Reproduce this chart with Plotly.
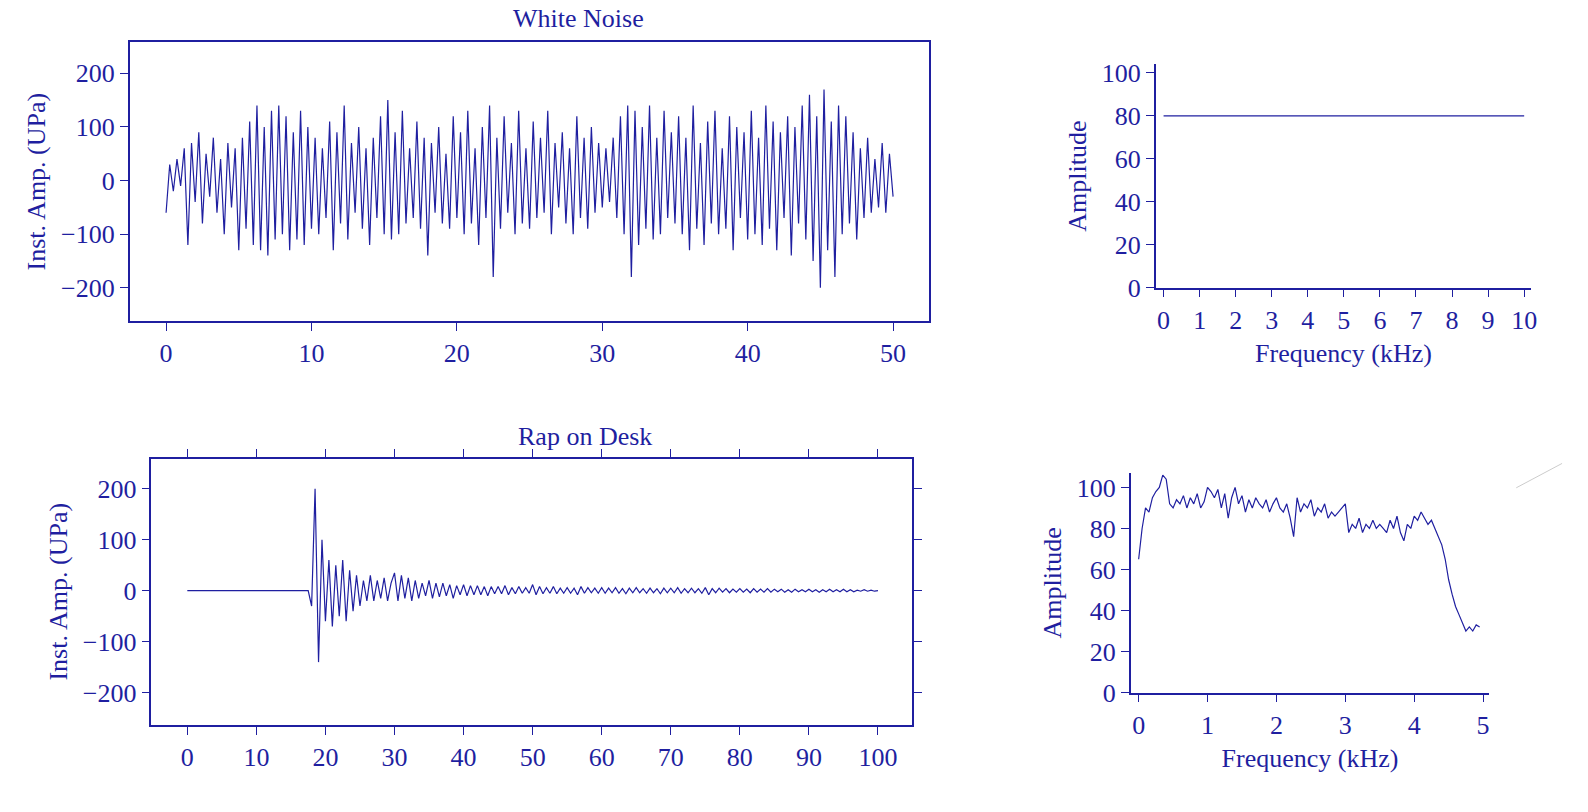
import plotly.graph_objects as go

noise_step = 0.25
noise_vals = [-60,30,-20,40,-10,60,-120,70,-40,90,-80,50,-30,80,-60,40,-100,70,-50,60,-130,
80,-90,110,-120,140,-130,100,-140,130,-110,140,-100,120,-130,90,-110,130,-120,100,-90,
80,-100,60,-70,110,-130,90,-80,140,-110,70,-60,100,-90,60,-120,80,-70,120,-100,
150,-110,90,-100,130,-80,60,-70,110,-90,80,-140,70,-60,100,-80,50,-90,120,-70,
90,-100,130,-80,60,-120,100,-70,140,-180,80,-90,120,-60,70,-100,130,-80,60,-90,
110,-70,80,-60,130,-100,70,-50,90,-80,60,-100,120,-70,80,-90,100,-60,70,-50,
60,-40,80,-70,120,-100,140,-180,130,-120,100,-90,140,-110,80,-100,130,-70,90,-80,
120,-100,80,-130,140,-90,70,-120,110,-80,130,-100,60,-90,120,-130,100,-70,90,-110,
130,-100,80,-120,140,-90,110,-130,90,-70,120,-140,100,-80,140,-110,160,-150,120,-200,
170,-130,110,-180,140,-100,120,-80,90,-110,60,-70,80,-60,40,-50,70,-60,50,-30]
noise_t = [i * noise_step for i in range(len(noise_vals))]

rap_start = 17.5
rap_step = 0.5
rap_vals = [0,-30,200,-140,100,
-60,60,-70,50,-50,60,-60,40,-40,30,
-30,20,-20,30,-20,20,-15,25,-20,15,
35,-20,30,-15,25,-20,20,-15,15,-10,
20,-15,15,-12,15,-10,12,-15,10,-8,
12,-10,10,-8,10,-8,8,-10,8,-6,
8,-6,10,-8,6,-6,8,-5,6,-5,
12,-8,8,-6,6,-5,8,-6,5,-5,
6,-5,5,-8,8,-5,6,-4,5,-5,
6,-5,5,-4,6,-5,4,-6,5,-4,6,-4,4,-5,5,-4,4,-6,5,-4,
5,-4,6,-5,4,-4,5,-4,4,-5,6,-8,4,-4,5,-3,4,-4,3,-3,
4,-3,3,-4,4,-3,3,-3,4,-3,3,-2,3,-3,2,-3,3,-2,2,-2,
3,-2,2,-3,2,-2,3,-2,2,-2,3,-2,2,-2,1,-1,2,-1,1,-1,0]
rap_t = [0] + [rap_start + i * rap_step for i in range(len(rap_vals))]
rap_v = [0] + rap_vals

wn_freq = [0, 10]
wn_amp = [80, 80]

spec_step = 0.05
spec_vals = [65,80,90,88,95,98,100,106,104,92,
90,94,92,96,90,95,92,97,90,93,
100,98,95,99,90,97,85,95,100,92,
96,88,94,90,95,92,90,94,88,92,
95,90,88,92,85,76,95,88,92,90,
94,86,90,88,92,85,88,86,88,90,
92,78,82,80,85,78,82,80,84,80,
82,80,78,84,80,86,78,74,82,80,
86,84,88,85,82,84,80,76,72,65,
55,48,42,38,34,30,32,30,33,32]
spec_f = [i * spec_step for i in range(len(spec_vals))]

C = "#1f1fa0"
FONT = "Liberation Serif"
ln = dict(color=C, width=1.2)

fig = go.Figure()
fig.add_trace(go.Scatter(x=noise_t, y=noise_vals, mode="lines", line=ln, xaxis="x", yaxis="y"))
fig.add_trace(go.Scatter(x=wn_freq, y=wn_amp, mode="lines", line=ln, xaxis="x2", yaxis="y2"))
fig.add_trace(go.Scatter(x=rap_t, y=rap_v, mode="lines", line=ln, xaxis="x3", yaxis="y3"))
fig.add_trace(go.Scatter(x=spec_f, y=spec_vals, mode="lines", line=ln, xaxis="x4", yaxis="y4"))

tf = dict(family=FONT, size=26, color=C)
def ax(**kw):
    d = dict(showgrid=False, zeroline=False, showline=True, linecolor=C, linewidth=1.5,
             ticks="outside", tickcolor=C, ticklen=8, tickwidth=1.2, tickfont=tf)
    d.update(kw); return d

fig.update_layout(
    width=1588, height=812, margin=dict(l=0, r=0, t=0, b=0),
    paper_bgcolor="white", plot_bgcolor="white", showlegend=False,
    xaxis=ax(domain=[0.082, 0.5875], range=[-2.5, 52.5], tickvals=[0,10,20,30,40,50], mirror=True, anchor="y"),
    yaxis=ax(domain=[0.601, 0.953], range=[-262, 258], tickvals=[-200,-100,0,100,200], mirror=True, anchor="x",
             title=dict(text="Inst. Amp. (UPa)", font=tf, standoff=8)),
    xaxis2=ax(domain=[0.7305, 0.968], range=[-0.22, 10.2], tickvals=list(range(11)), anchor="y2",
              title=dict(text="Frequency (kHz)", font=tf, standoff=10)),
    yaxis2=ax(domain=[0.643, 0.925], range=[0, 104], tickvals=[0,20,40,60,80,100], anchor="x2",
              title=dict(text="Amplitude", font=tf, standoff=8)),
    xaxis3=ax(domain=[0.0957, 0.5768], range=[-5.2, 105], tickvals=list(range(0,101,10)), mirror="ticks", anchor="y3"),
    yaxis3=ax(domain=[0.0911, 0.4273], range=[-263, 259], tickvals=[-200,-100,0,100,200], mirror="ticks", anchor="x3",
              title=dict(text="Inst. Amp. (UPa)", font=tf, standoff=8)),
    xaxis4=ax(domain=[0.7147, 0.9414], range=[-0.116, 5.09], tickvals=[0,1,2,3,4,5], anchor="y4",
              title=dict(text="Frequency (kHz)", font=tf, standoff=10)),
    yaxis4=ax(domain=[0.1318, 0.409], range=[0, 107], tickvals=[0,20,40,60,80,100], anchor="x4",
              title=dict(text="Amplitude", font=tf, standoff=8)),
    annotations=[
        dict(text="White Noise", x=0.323, y=0.983, xref="paper", yref="paper", yanchor="middle",
             showarrow=False, font=tf),
        dict(text="Rap on Desk", x=0.326, y=0.455, xref="paper", yref="paper", yanchor="middle",
             showarrow=False, font=tf),
    ],
    shapes=[dict(type="line", xref="paper", yref="paper", x0=1522/1588, y0=1-495/812, x1=1568/1588, y1=1-470/812,
                 line=dict(color="#cccccc", width=1))],
)
fig.write_html("out.html", config={"displayModeBar": False},
               post_script="document.body.style.margin='0';document.body.style.overflow='hidden';")
